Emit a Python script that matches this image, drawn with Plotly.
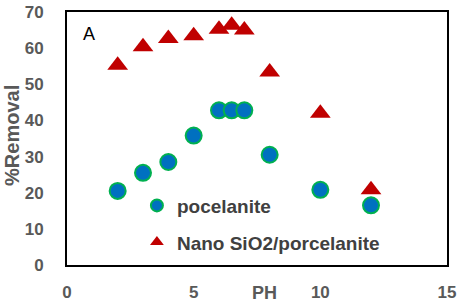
import plotly.graph_objects as go

ph_por = [2, 3, 4, 5, 6, 6.5, 7, 8, 10, 12]
rem_por = [20.5, 25.5, 28.5, 35.8, 42.8, 42.8, 42.8, 30.5, 20.8, 16.5]
ph_nano = [2, 3, 4, 5, 6, 6.5, 7, 8, 10, 12]
rem_nano = [55.3, 60.4, 62.7, 63.4, 65.2, 66.3, 65.0, 53.4, 42.0, 20.8]

x_ticks = [0, 5, 10, 15]
y_ticks = [0, 10, 20, 30, 40, 50, 60, 70]

fig = go.Figure()
fig.add_trace(go.Scatter(
    x=ph_por, y=rem_por, mode="markers", name="pocelanite", legendgroup="a",
    marker=dict(symbol="circle", size=16, color="#0070C0",
                line=dict(color="#00B050", width=2))))
fig.add_trace(go.Scatter(
    x=ph_nano, y=rem_nano, mode="markers", name="Nano SiO2/porcelanite", legendgroup="b",
    marker=dict(symbol="triangle-up", size=18, color="#C00000",
                line=dict(color="#C00000", width=0))))

axfont = dict(family="Liberation Sans", size=17, color="#595959", weight="bold")
fig.update_layout(
    width=461, height=307,
    margin=dict(l=67, r=14, t=12, b=42),
    paper_bgcolor="white", plot_bgcolor="white",
    showlegend=True,
    legend=dict(x=0.184, y=0.31, xanchor="left", yanchor="top",
                bgcolor="rgba(0,0,0,0)", traceorder="grouped", tracegroupgap=9,
                font=dict(family="Liberation Sans", size=19, color="#404040",
                          weight="bold"),
                itemsizing="constant"),
    xaxis=dict(range=[0, 15], tickvals=x_ticks, showgrid=False, zeroline=False,
               showline=True, linecolor="black", linewidth=2, mirror=True,
               ticks="", tickfont=axfont, ticklabelstandoff=11, automargin=False,
               ticklabeloverflow="allow"),
    yaxis=dict(range=[0, 70], tickvals=y_ticks, showgrid=False, zeroline=False,
               showline=True, linecolor="black", linewidth=2, mirror=True,
               ticks="", tickfont=axfont, ticklabelstandoff=18, automargin=False,
               ticklabeloverflow="allow"),
)
fig.add_annotation(x=0, y=0.51, xref="paper", yref="paper", xshift=-55,
                   xanchor="center", yanchor="middle", textangle=-90,
                   text="%Removal", showarrow=False,
                   font=dict(family="Liberation Sans", size=20,
                             color="#595959", weight="bold"))
fig.add_annotation(x=7.8, y=0, xref="x", yref="paper", yshift=-28, yanchor="middle",
                   text="PH", showarrow=False,
                   font=dict(family="Liberation Sans", size=18,
                             color="#595959", weight="bold"))
fig.add_annotation(x=0.85, y=63.8, xref="x", yref="y", text="A", showarrow=False,
                   font=dict(family="Liberation Sans", size=18, color="black"))
fig.write_html("out.html", config={"displayModeBar": False},
               post_script="document.body.style.margin='0';document.body.style.padding='0';")
